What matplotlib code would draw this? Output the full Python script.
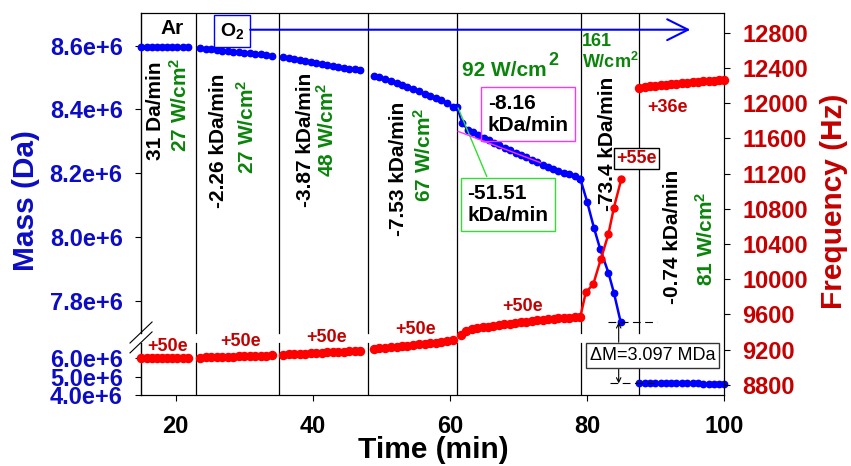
import matplotlib.pyplot as plt
import numpy as np

plt.rcParams["font.family"] = ["Liberation Sans", "DejaVu Sans"]
plt.rcParams["font.weight"] = "bold"
plt.rcParams["axes.labelweight"] = "bold"
plt.rcParams["mathtext.fontset"] = "custom"
plt.rcParams["mathtext.rm"] = "Liberation Sans:bold"
plt.rcParams["mathtext.it"] = "Liberation Sans:bold"
plt.rcParams["mathtext.bf"] = "Liberation Sans:bold"
plt.rcParams["mathtext.default"] = "rm"

BLUE = "#0000ff"
RED = "#ff0000"
DARK_BLUE = "#0c0cc4"
DARK_RED = "#c40000"
GREEN = "#0a840a"
MAGENTA = "#ff33ff"
LIME = "#33dd33"

# phase boundaries (min)
PHASE_EDGES = [23.0, 35.0, 48.0, 61.0, 79.1, 87.5]

# Ar plasma, 27 W/cm2
AR_TIME = [15.0, 15.75, 16.5, 17.25, 18.0, 18.75, 19.5, 20.25, 21.0, 21.75]
AR_MASS = [8597300, 8597300, 8597200, 8597200, 8597100, 8597100, 8597000, 8597000, 8596900, 8596900]
AR_FREQ = [9104, 9105, 9105, 9106, 9106, 9107, 9107, 9108, 9108, 9109]

# O2, 27 W/cm2
P27_TIME = [23.6, 24.4, 25.2, 26.0, 26.8, 27.6, 28.4, 29.2, 30.0, 30.8, 31.6, 32.4, 33.2, 34.0]
P27_MASS = [8592500, 8590000, 8588500, 8586000, 8584500, 8583000, 8581000, 8579500, 8577500,
            8576000, 8574500, 8572500, 8570500, 8569000]
P27_FREQ = [9108, 9110, 9112, 9114, 9116, 9117, 9119, 9121, 9123, 9125, 9127, 9129, 9131, 9134]

# O2, 48 W/cm2
P48_TIME = [35.7, 36.5, 37.3, 38.1, 38.9, 39.7, 40.5, 41.3, 42.1, 42.9, 43.7, 44.5, 45.3, 46.1, 46.9]
P48_MASS = [8564500, 8561500, 8558000, 8555000, 8552000, 8549000, 8546000, 8543000, 8540000,
            8537000, 8534000, 8531000, 8528000, 8525500, 8523000]
P48_FREQ = [9143, 9146, 9149, 9152, 9155, 9158, 9161, 9165, 9168, 9171, 9174, 9177, 9181, 9185, 9189]

# O2, 67 W/cm2
P67_TIME = [48.9, 49.7, 50.5, 51.4, 52.2, 53.0, 53.8, 54.6, 55.5, 56.3, 57.1, 57.9, 58.7, 59.6, 60.4]
P67_MASS = [8506000, 8500500, 8494500, 8488500, 8482000, 8476000, 8469500, 8463000, 8456500,
            8450000, 8443000, 8436000, 8429000, 8420000, 8408000]
P67_FREQ = [9208, 9214, 9220, 9226, 9232, 9238, 9244, 9251, 9258, 9265, 9272, 9280, 9288, 9298, 9310]

# O2, 92 W/cm2
P92_TIME = [61.0, 61.8, 62.6, 63.3, 64.1, 64.9, 65.7, 66.4, 67.2, 68.0, 68.8, 69.6, 70.4, 71.1,
            71.9, 72.7, 73.5, 74.3, 75.0, 75.8, 76.6, 77.4, 78.2, 79.0]
P92_MASS = [8408000, 8356000, 8336000, 8328000, 8319000, 8311000, 8303000, 8296000, 8288000,
            8280000, 8272000, 8264000, 8257000, 8250000, 8242000, 8235000, 8227000, 8220000,
            8214000, 8208000, 8202000, 8196000, 8191000, 8183000]
P92_FREQ_TIME = [61.6, 62.4, 63.2, 64.0, 64.8, 65.6, 66.3, 67.1, 67.9, 68.7, 69.5, 70.3, 71.1,
                 71.9, 72.7, 73.5, 74.3, 75.1, 75.8, 76.6, 77.4, 78.2, 79.0]
P92_FREQ = [9368, 9405, 9428, 9440, 9451, 9461, 9470, 9479, 9487, 9495, 9503, 9510, 9517, 9524,
            9530, 9536, 9542, 9548, 9553, 9558, 9562, 9566, 9570]

# O2, 161 W/cm2: fast loss of mass, charge rises
DROP_TIME = [79.0, 80.0, 81.0, 81.9, 83.1, 83.9, 84.9]
DROP_MASS = [8183000, 8110000, 8028000, 7962000, 7888000, 7825000, 7732000]
RISE_TIME = [79.0, 79.8, 80.9, 82.0, 83.1, 83.9, 85.0]
RISE_FREQ = [9570, 9849, 9944, 10228, 10511, 10812, 11141]

# O2, 81 W/cm2 after the jump
DELTA_M = 3.097e6
END_TIME = [87.6, 88.4, 89.1, 89.9, 90.7, 91.5, 92.3, 93.0, 93.8, 94.6, 95.4, 96.2, 96.9, 97.7,
            98.5, 99.3, 100.0]
END_MASS = [4635000, 4634400, 4633900, 4633300, 4632700, 4632100, 4631500, 4631000, 4630400,
            4629800, 4629200, 4628600, 4628100, 4627500, 4626900, 4626300, 4625800]
END_FREQ = [12172, 12182, 12190, 12197, 12204, 12210, 12216, 12221, 12226, 12231, 12236, 12241,
            12246, 12251, 12256, 12262, 12268]

# linear fits in the 92 W/cm2 phase
FAST_RATE = -51.51e3
FAST_START = (61.2, 8.404e6)
FAST_SPAN = 4.15
SLOW_RATE = -8.16e3
SLOW_START = (61.2, 8.331e6)
SLOW_SPAN = 12.0

MASS_TICKS = [4.0e6, 5.0e6, 6.0e6, 7.8e6, 8.0e6, 8.2e6, 8.4e6, 8.6e6]
MASS_LABELS = ["4.0e+6", "5.0e+6", "6.0e+6", "7.8e+6", "8.0e+6", "8.2e+6", "8.4e+6", "8.6e+6"]
FREQ_TICKS = [8800, 9200, 9600, 10000, 10400, 10800, 11200, 11600, 12000, 12400, 12800]
TIME_TICKS = [20, 40, 60, 80, 100]

# broken mass axis: squeezed 4-6.8 MDa below the break, stretched 7.7-8.7 MDa above
MASS_KNOTS = np.array([4.0e6, 6.79e6, 7.70e6, 8.7035e6])
AXIS_KNOTS = np.array([0.0, 0.137, 0.164, 1.0])
BREAK_LO, BREAK_HI = 0.137, 0.164


def _pw(x, xs, ys):
    x = np.asarray(x, dtype=float)
    out = np.interp(x, xs, ys)
    s0 = (ys[1] - ys[0]) / (xs[1] - xs[0])
    s1 = (ys[-1] - ys[-2]) / (xs[-1] - xs[-2])
    out = np.where(x < xs[0], ys[0] + (x - xs[0]) * s0, out)
    out = np.where(x > xs[-1], ys[-1] + (x - xs[-1]) * s1, out)
    return out


def mass_fwd(m):
    return _pw(m, MASS_KNOTS, AXIS_KNOTS)


def mass_inv(u):
    return _pw(u, AXIS_KNOTS, MASS_KNOTS)


fig = plt.figure(figsize=(8.51, 4.66), dpi=100)
ax = fig.add_axes([0.1662, 0.1517, 0.6849, 0.8210])
ax.set_yscale("function", functions=(mass_fwd, mass_inv))
ax.set_xlim(15, 100)
ax.set_ylim(4.0e6, 8.7035e6)

# phase separators, interrupted at the axis break
for t in PHASE_EDGES:
    ax.axvline(t, 0, BREAK_LO, color="k", lw=0.9, zorder=1)
    ax.axvline(t, BREAK_HI, 1, color="k", lw=0.9, zorder=1)

flat = dict(color=BLUE, marker="o", ms=4.6, lw=1.5, clip_on=False, zorder=3)
for t, m in [(AR_TIME, AR_MASS), (P27_TIME, P27_MASS), (P48_TIME, P48_MASS),
             (P67_TIME, P67_MASS), (P92_TIME, P92_MASS), (END_TIME, END_MASS)]:
    ax.plot(t, m, **flat)
ax.plot(DROP_TIME, DROP_MASS, color=BLUE, marker="o", ms=4.6, lw=1.8, zorder=3)

t0, m0 = FAST_START
ax.plot([t0, t0 + FAST_SPAN], [m0, m0 + FAST_RATE * FAST_SPAN], color=LIME, lw=1, zorder=4)
t0, m0 = SLOW_START
ax.plot([t0, t0 + SLOW_SPAN], [m0, m0 + SLOW_RATE * SLOW_SPAN], color=MAGENTA, lw=1, zorder=4)

# mass jump markers
m_top = DROP_MASS[-1]
m_bot = END_MASS[0]
ax.plot([83.1, 90.2], [m_top, m_top], color="k", lw=0.8, ls=(0, (7, 4)), zorder=4)
ax.plot([83.4, 90.2], [m_bot, m_bot], color="k", lw=0.8, ls=(0, (7, 4)), zorder=4)

# left spine drawn in two pieces with break marks
ax.spines["left"].set_visible(False)
for y0, y1 in [(0, BREAK_LO), (BREAK_HI, 1)]:
    ax.plot([0, 0], [y0, y1], transform=ax.transAxes, color="k", lw=1, clip_on=False)
for y0 in [0.1367, 0.1108]:
    ax.plot([-0.0196, 0.0182], [y0, y0 + 0.0549], transform=ax.transAxes,
            color="k", lw=0.8, clip_on=False)

ax.set_yticks(MASS_TICKS)
ax.set_yticklabels(MASS_LABELS)
ax.minorticks_off()
ax.set_xticks(TIME_TICKS)
ax.tick_params(axis="y", labelcolor=DARK_BLUE, labelsize=17, length=4, pad=9.5, direction="out")
ax.tick_params(axis="x", labelsize=17, length=4.5, pad=10, direction="out")
ax.set_xlabel("Time (min)", fontsize=21.5, fontweight="bold")
ax.xaxis.set_label_coords(0.5, -0.106)
ax.set_ylabel("Mass (Da)", fontsize=21.5, fontweight="bold", color=DARK_BLUE)
ax.yaxis.set_label_coords(-0.174, 0.508)

# frequency on the right
ax2 = ax.twinx()
ax2.set_ylim(8680, 13027)
ax2.spines["left"].set_visible(False)
red = dict(color=RED, marker="o", ms=5.8, lw=1.5, clip_on=False, zorder=3)
for t, f in [(AR_TIME, AR_FREQ), (P27_TIME, P27_FREQ), (P48_TIME, P48_FREQ),
             (P67_TIME, P67_FREQ), (P92_FREQ_TIME, P92_FREQ), (END_TIME, END_FREQ)]:
    ax2.plot(t, f, **red)
ax2.plot(RISE_TIME, RISE_FREQ, color=RED, marker="o", ms=5, lw=1.8, zorder=3)
ax2.set_yticks(FREQ_TICKS)
ax2.tick_params(axis="y", labelcolor=DARK_RED, labelsize=17, length=4, pad=9, direction="out")
ax2.set_ylabel("Frequency (Hz)", fontsize=21.5, fontweight="bold", color=DARK_RED)
ax2.yaxis.set_label_coords(1.164, 0.508)

# gas labels
ax2.text(19.42, 12852, "Ar", fontsize=15, ha="center", va="center")
ax2.text(28.2, 12820, "O$_2$", fontsize=14, ha="center", va="center",
         bbox=dict(boxstyle="square,pad=0.3", fc="white", ec=BLUE, lw=1))
ax2.annotate("", xy=(95.05, 12834), xytext=(30.85, 12834),
             arrowprops=dict(arrowstyle="->,head_length=1.0,head_width=0.5", color=BLUE,
                             lw=1.5, mutation_scale=15, shrinkA=0, shrinkB=0))

# rates and power densities per phase
rot = dict(rotation=90, ha="center", fontsize=15)
ax2.text(16.98, 12475, "31 Da/min", va="top", **rot)
ax2.text(20.55, 12512, "27 W/cm$^2$", va="top", color=GREEN, **rot)
ax2.text(26.18, 12339, "-2.26 kDa/min", va="top", **rot)
ax2.text(30.4, 12271, "27 W/cm$^2$", va="top", color=GREEN, **rot)
ax2.text(38.87, 12342, "-3.87 kDa/min", va="top", **rot)
ax2.text(42.04, 12229, "48 W/cm$^2$", va="top", color=GREEN, **rot)
ax2.text(52.49, 12021, "-7.53 kDa/min", va="top", **rot)
ax2.text(56.14, 11945, "67 W/cm$^2$", va="top", color=GREEN, **rot)
ax2.text(82.94, 12305, "-73.4 kDa/min", va="top", **rot)
ax2.text(92.38, 9721, "-0.74 kDa/min", va="bottom", **rot)
ax2.text(97.35, 9925, "81 W/cm$^2$", va="bottom", color=GREEN, **rot)

ax2.text(61.74, 12305, "92 W/cm", fontsize=15, color=GREEN, ha="left", va="baseline")
ax2.text(74.38, 12437, "2", fontsize=13, color=GREEN, ha="left", va="baseline")
ax2.text(79.25, 12792, "161\nW/cm$^2$", fontsize=13, color=GREEN, ha="left", va="top",
         linespacing=1.1)

ax2.text(71.4, 11874, "-8.16\nkDa/min", fontsize=15, ha="center", va="center",
         multialignment="left",
         bbox=dict(boxstyle="square,pad=0.3", fc="none", ec=MAGENTA, lw=1))
ax2.text(68.45, 10850, "-51.51\nkDa/min", fontsize=15, ha="center", va="center",
         multialignment="left",
         bbox=dict(boxstyle="square,pad=0.3", fc="white", ec=LIME, lw=1))

# charge states
for t, f in [(18.88, 9234), (29.49, 9291), (42.04, 9339), (54.92, 9423), (70.64, 9687)]:
    ax2.text(t, f, "+50e", fontsize=13, color=DARK_RED, ha="center", va="center")
ax2.text(87.22, 11370, "+55e", fontsize=13, color=DARK_RED, ha="center", va="center",
         bbox=dict(boxstyle="square,pad=0.12", fc="white", ec="k", lw=1))
ax2.text(88.73, 11946, "+36e", fontsize=13, color=DARK_RED, ha="left", va="center")

# mass jump
ax2.text(89.58, 9132, "ΔM=3.097 MDa", fontsize=13, fontweight="normal", ha="center",
         va="center", bbox=dict(boxstyle="square,pad=0.2", fc="white", ec="#333333", lw=1),
         zorder=5)
jump = dict(arrowstyle="->", color="k", lw=0.8, mutation_scale=8, shrinkA=0, shrinkB=0)
ax.annotate("", xy=(84.6, m_top), xytext=(84.6, 9283), textcoords=ax2.transData,
            arrowprops=jump)
ax.annotate("", xy=(84.6, m_bot), xytext=(84.6, 8981), textcoords=ax2.transData,
            arrowprops=jump)

fig.savefig("out.png", dpi=100)
